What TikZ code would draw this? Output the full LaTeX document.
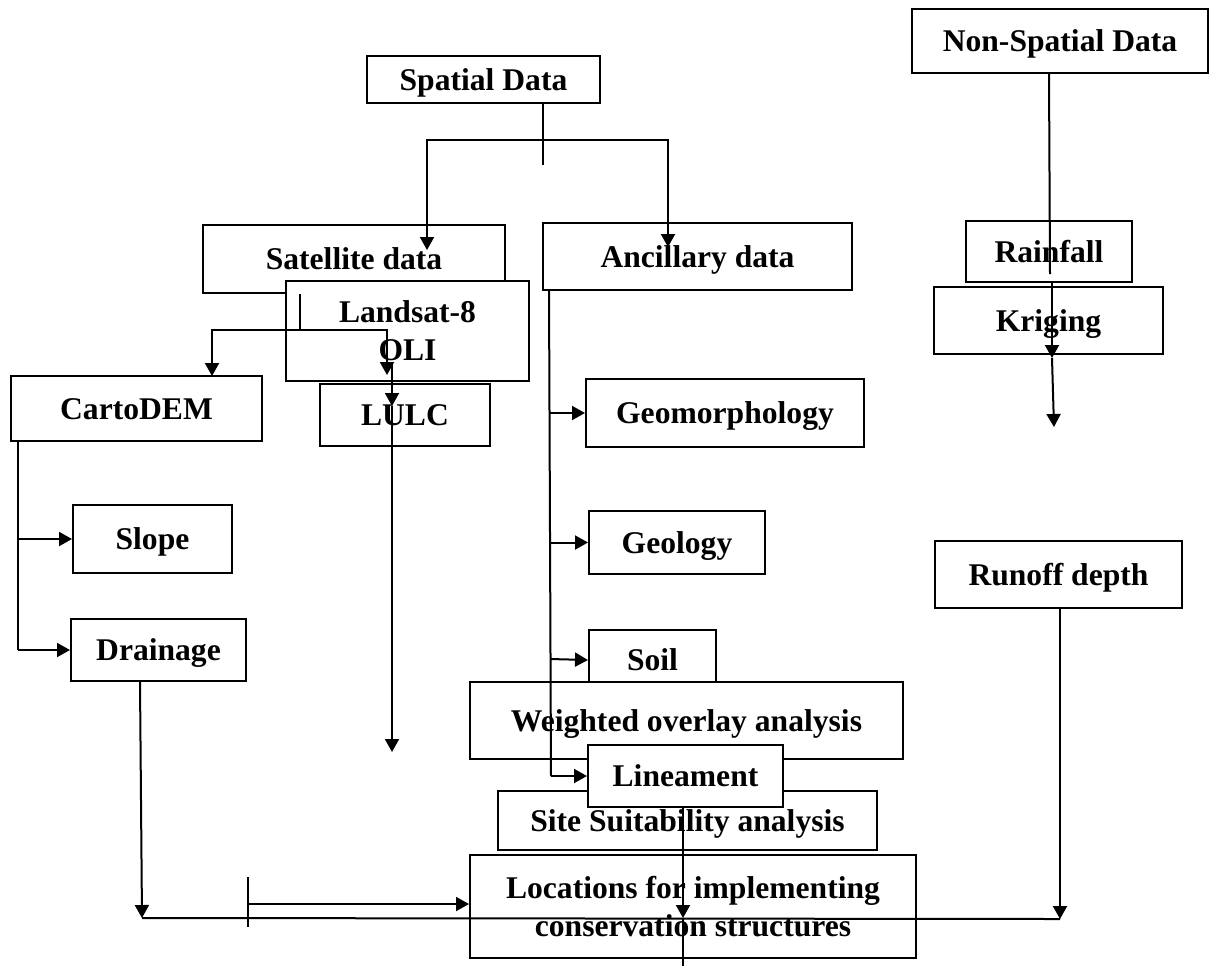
\documentclass[tikz,border=0pt]{standalone}
\usepackage{fontspec}
\setmainfont{Liberation Serif}
\usetikzlibrary{arrows.meta}
\begin{document}
\begin{tikzpicture}[x=0.5pt,y={(0pt,-0.5pt)},
  box/.style={draw, fill=white, line width=1pt, inner sep=0pt, align=center,
    text height=10.6pt, text depth=0pt,
    font=\bfseries\fontsize{15.8}{19}\selectfont},
  twoline/.style={text height=29.6pt},
  conn/.style={line width=1pt},
  arr/.style={line width=1pt, -{Triangle[width=7pt,length=6.5pt]}}]
\useasboundingbox[fill=white] (0,0) rectangle (1216,966);
% boxes (back to front)
\node[box, minimum width=116.5pt, minimum height=23.5pt] (sp) at (483.5,79.5) {Spatial Data};
\node[box, minimum width=148pt, minimum height=32pt] (nsp) at (1060,41) {Non-Spatial Data};
\node[box, minimum width=151pt, minimum height=34pt] (sat) at (354,259) {Satellite data};
\node[box, minimum width=154.5pt, minimum height=33.5pt] (anc) at (697.5,256.5) {Ancillary data};
\node[box, twoline, minimum width=121.5pt, minimum height=50pt] (ls) at (407.5,331) {Landsat-8\\OLI};
\node[box, minimum width=85pt, minimum height=31pt] (lulc) at (405,415) {LULC};
\node[box, minimum width=125.5pt, minimum height=32.5pt] (cd) at (136.5,408.5) {CartoDEM};
\node[box, minimum width=79.5pt, minimum height=34pt] (slope) at (152.5,539) {Slope};
\node[box, minimum width=87.5pt, minimum height=31pt] (drain) at (158.5,650) {Drainage};
\node[box, minimum width=139pt, minimum height=34pt] (geom) at (725,413) {Geomorphology};
\node[box, minimum width=88pt, minimum height=31.5pt] (geol) at (677,542.5) {Geology};
\node[box, minimum width=63.5pt, minimum height=30pt] (soil) at (652.5,660) {Soil};
\node[box, minimum width=216.5pt, minimum height=38.5pt] (wo) at (686.5,720.5) {Weighted overlay analysis};
\node[box, minimum width=189.5pt, minimum height=29.5pt] (ssa) at (687.5,820.5) {Site Suitability analysis};
\node[box, minimum width=97.5pt, minimum height=31pt] (lin) at (685.5,776) {Lineament};
\node[box, twoline, minimum width=223pt, minimum height=51.5pt] (loc) at (693,906.5) {Locations for implementing\\conservation structures};
\node[box, minimum width=83pt, minimum height=30.5pt] (rain) at (1049,251.5) {Rainfall};
\node[box, minimum width=114.5pt, minimum height=33.5pt] (krig) at (1048.5,320.5) {Kriging};
\node[box, minimum width=123.5pt, minimum height=33.5pt] (run) at (1058.5,574.5) {Runoff depth};
% junction coordinates
\coordinate (j1) at (543,140);
\coordinate (spEnd) at (543,165);
\coordinate (satTip) at (427,250);
\coordinate (ancTip) at (668,247);
\coordinate (j2) at (300,330);
\coordinate (cdTip) at (212,376);
\coordinate (lsTip) at (387,375);
\coordinate (lu0) at (392,363);
\coordinate (luTip) at (392,406);
\coordinate (luEnd) at (392,752);
\coordinate (cdTop) at (18,441);
\coordinate (cdBot) at (18,650);
\coordinate (cdMid) at (18,539);
\coordinate (drTip) at (142,918);
\coordinate (runTip) at (1060,919);
\coordinate (tickT) at (248,877);
\coordinate (tickB) at (248,927);
\coordinate (tickM) at (248,904);
\coordinate (a0) at (549,290);
\coordinate (a1) at (551,776);
\coordinate (lin0) at (683,807);
\coordinate (linTip) at (683,918);
\coordinate (linEnd) at (683,966);
\coordinate (ns0) at (1049,73);
\coordinate (ns1) at (1050,274);
\coordinate (kr0) at (1052,282);
\coordinate (kr1) at (1052,358);
\coordinate (kr2) at (1054,427);
% connectors
\draw[conn] (sp.south -| j1) -- (spEnd);
\draw[arr] (j1) -| (satTip);
\draw[arr] (j1) -| (ancTip);
\draw[conn] (sat.south -| j2) -- (j2);
\draw[arr] (j2) -| (cdTip);
\draw[arr] (j2) -| (lsTip);
\draw[arr] (lu0) -- (luTip);
\draw[arr] (luTip) -- (luEnd);
\draw[conn] (cdTop) -- (cdBot);
\draw[arr] (cdMid) -- (slope.west);
\draw[arr] (cdBot) -- (drain.west);
\draw[arr] (drain.south -| 140,0) -- (drTip);
\draw[conn] (drTip) -- (runTip);
\draw[arr] (run.south -| runTip) -- (runTip);
\draw[conn] (tickT) -- (tickB);
\draw[arr] (tickM) -- (loc.west |- tickM);
\draw[conn] (a0) -- (a1);
\draw[arr] (549.5,413) -- (geom.west);
\draw[arr] (549.7,542.5) -- (geol.west);
\draw[arr] (550.3,659) -- (soil.west);
\draw[arr] (a1) -- (lin.west);
\draw[arr] (lin0) -- (linTip);
\draw[conn] (linTip) -- (linEnd);
\draw[conn] (ns0) -- (ns1);
\draw[arr] (kr0) -- (kr1);
\draw[arr] (kr1) -- (kr2);
\end{tikzpicture}
\end{document}
